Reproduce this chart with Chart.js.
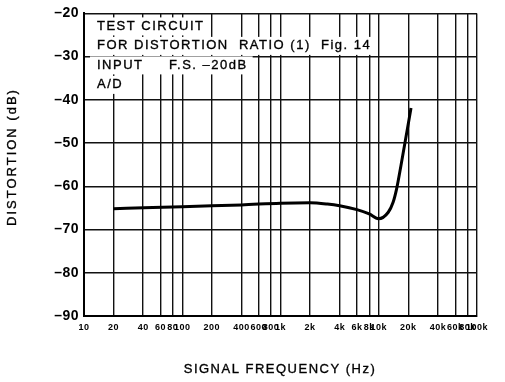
<!DOCTYPE html>
<html>
<head>
<meta charset="utf-8">
<script src="https://cdn.jsdelivr.net/npm/chart.js@4"></script>
<style>
  html, body { margin: 0; padding: 0; background: #fff; }
</style>
</head>
<body>
<canvas id="chart" width="505" height="382"></canvas>
<script>
// distortion vs signal frequency
const freqs = [20, 50, 100, 200, 400, 1000, 2000, 3000, 4000, 6000, 8000, 9900, 12500, 14000, 15200, 16800, 21300];
const distortion = [-65.2, -64.9, -64.7, -64.5, -64.3, -63.9, -63.8, -64.1, -64.5, -65.4, -66.4, -67.5, -66, -63.7, -60.6, -55.3, -41.9];

const xTicks = [10, 20, 40, 60, 80, 100, 200, 400, 600, 800, 1000, 2000, 4000, 6000, 8000, 10000, 20000, 40000, 60000, 80000, 100000];
const xTickLabels = ['10', '20', '40', '60', '80', '100', '200', '400', '600', '800', '1k', '2k', '4k', '6k', '8k', '10k', '20k', '40k', '60k', '80k', '100k'];
const yTicks = [-90, -80, -70, -60, -50, -40, -30, -20];

const xTitle = 'SIGNAL FREQUENCY (Hz)';
const yTitle = 'DISTORTION (dB)';
const noteLines = ['TEST CIRCUIT', 'FOR DISTORTION  RATIO (1)  Fig. 14', 'INPUT     F.S. \u201320dB', 'A/D'];

const FONT = '"Liberation Sans", Arial, sans-serif';
const INK = '#000';

// printed text is a little heavier than the plain face
function inkText(ctx, t, x, y) {
  ctx.fillText(t, x, y);
  ctx.lineWidth = 0.35;
  ctx.strokeStyle = INK;
  ctx.strokeText(t, x, y);
}

// slight letter spacing on the tick labels
const spacing = {
  id: 'spacing',
  beforeDraw(chart) {
    chart.ctx.letterSpacing = '0.5px';
  }
};

// note block in the upper left, on white so the grid is hidden behind it
const notes = {
  id: 'notes',
  beforeDatasetsDraw(chart) {
    const ctx = chart.ctx;
    const a = chart.chartArea;
    ctx.save();
    ctx.font = '13px ' + FONT;
    ctx.letterSpacing = '1.5px';
    ctx.textBaseline = 'middle';
    noteLines.forEach((t, i) => {
      const y = a.top + 13 + i * 19.5;
      const w = ctx.measureText(t).width;
      ctx.fillStyle = '#fff';
      ctx.fillRect(a.left + 6, y - 9, w + 12, 18);
      ctx.fillStyle = INK;
      inkText(ctx, t, a.left + 13, y);
    });
    ctx.restore();
  }
};

// axis titles, widely spaced
const titles = {
  id: 'titles',
  afterDraw(chart) {
    const ctx = chart.ctx;
    ctx.save();
    ctx.fillStyle = INK;
    ctx.textAlign = 'center';
    ctx.textBaseline = 'middle';
    ctx.font = '13px ' + FONT;
    ctx.letterSpacing = '1.5px';
    inkText(ctx, xTitle, 280, 369);
    ctx.letterSpacing = '2px';
    ctx.translate(12, 157);
    ctx.rotate(-Math.PI / 2);
    inkText(ctx, yTitle, 0, 0);
    ctx.restore();
  }
};

const ctx = document.getElementById('chart');
new Chart(ctx, {
  type: 'line',
  data: {
    datasets: [{
      data: freqs.map((f, i) => ({ x: f, y: distortion[i] })),
      borderColor: '#000',
      borderWidth: 3,
      pointRadius: 0,
      cubicInterpolationMode: 'monotone',
      fill: false
    }]
  },
  options: {
    responsive: false,
    animation: false,
    devicePixelRatio: 1,
    layout: { padding: { top: 13, right: 28, left: 0, bottom: 0 } },
    plugins: { legend: { display: false }, tooltip: { enabled: false } },
    scales: {
      x: {
        type: 'logarithmic',
        min: 10,
        max: 100000,
        afterBuildTicks: s => { s.ticks = xTicks.map(v => ({ value: v })); },
        afterFit: s => { s.height = 66; },
        ticks: {
          autoSkip: false,
          maxRotation: 0,
          padding: 6,
          color: INK,
          font: { family: FONT, size: 9, weight: 'bold' },
          callback: (v, i) => xTickLabels[i]
        },
        grid: { color: '#111', lineWidth: 1.4, drawTicks: false },
        border: { color: '#000', width: 2 }
      },
      y: {
        min: -90,
        max: -20,
        afterBuildTicks: s => { s.ticks = yTicks.map(v => ({ value: v })); },
        afterFit: s => { s.width = 84; },
        ticks: {
          padding: 5,
          color: INK,
          font: { family: FONT, size: 14, weight: 'bold' },
          callback: v => '\u2013' + Math.abs(v)
        },
        grid: { color: '#111', lineWidth: 1.4, drawTicks: false },
        border: { color: '#000', width: 2 }
      }
    }
  },
  plugins: [spacing, notes, titles]
});
</script>
</body>
</html>
